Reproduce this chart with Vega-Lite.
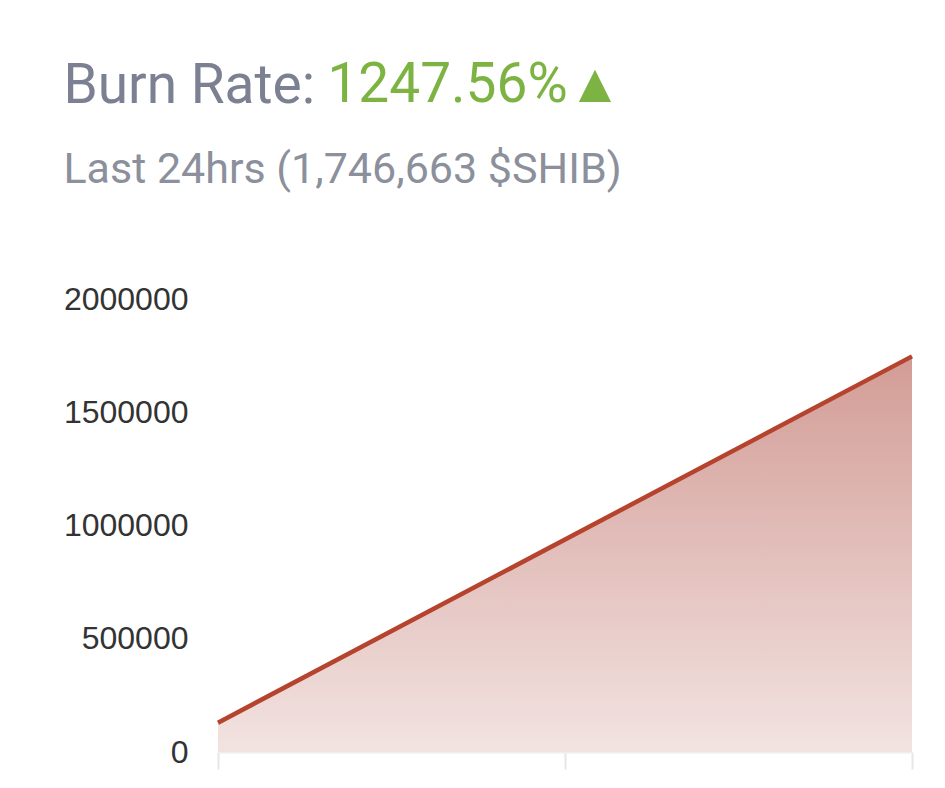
{
  "$schema": "https://vega.github.io/schema/vega-lite/v6.json",
  "background": "white",
  "padding": {"left": 63, "top": 58, "right": 33, "bottom": 0},
  "title": {
    "text": "1247.56%▲",
    "anchor": "start",
    "frame": "bounds",
    "font": "Roboto",
    "fontSize": 55,
    "fontWeight": "normal",
    "color": "#7cb342",
    "offset": 0,
    "dx": 264,
    "dy": 55
  },
  "vconcat": [
    {
      "width": 694,
      "height": 453,
      "title": {
        "text": "Burn Rate:",
        "subtitle": "Last 24hrs (1,746,663 $SHIB)",
        "anchor": "start",
        "frame": "bounds",
        "font": "Roboto",
        "fontSize": 55,
        "fontWeight": "normal",
        "color": "#7b8192",
        "subtitleFont": "Roboto",
        "subtitleFontSize": 43,
        "subtitleColor": "#8b909c",
        "subtitlePadding": 34,
        "offset": 90
      },
      "data": {
        "values": [
          {"hour": 0, "burned": 129617},
          {"hour": 24, "burned": 1746663}
        ]
      },
      "encoding": {
        "x": {
          "field": "hour",
          "type": "quantitative",
          "scale": {"domain": [0, 24], "nice": false, "zero": false},
          "axis": {
            "title": null,
            "values": [0, 12, 24],
            "labels": false,
            "grid": false,
            "domainColor": "#eeeeee",
            "domainWidth": 2,
            "tickColor": "#e6e6e6",
            "tickWidth": 2,
            "tickSize": 17
          }
        },
        "y": {
          "field": "burned",
          "type": "quantitative",
          "scale": {"domain": [0, 2000000], "nice": false},
          "axis": {
            "title": null,
            "values": [0, 500000, 1000000, 1500000, 2000000],
            "format": "d",
            "grid": false,
            "domain": false,
            "ticks": false,
            "labelFont": "Liberation Sans",
            "labelFontSize": 32,
            "labelColor": "#333333",
            "labelPadding": 30
          }
        }
      },
      "layer": [
        {
          "mark": {
            "type": "area",
            "color": {
              "x1": 0, "y1": 0, "x2": 0, "y2": 1,
              "gradient": "linear",
              "stops": [
                {"offset": 0, "color": "#d39c96"},
                {"offset": 1, "color": "#f2e3e1"}
              ]
            }
          }
        },
        {
          "mark": {"type": "line", "color": "#b5432d", "strokeWidth": 4.5}
        }
      ]
    }
  ],
  "config": {"view": {"stroke": null}}
}
